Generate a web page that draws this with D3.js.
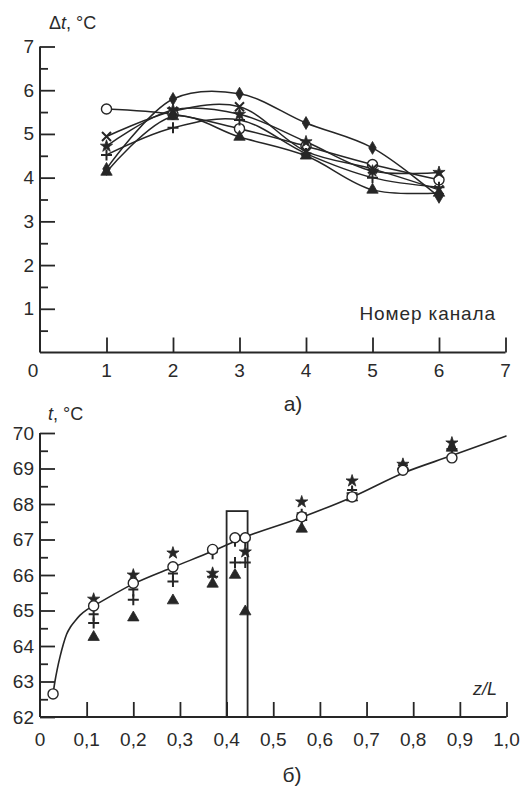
<!DOCTYPE html>
<html>
<head>
<meta charset="utf-8">
<script src="https://cdn.jsdelivr.net/npm/d3@7"></script>
<style>
  html, body { margin: 0; padding: 0; background: #ffffff; }
  svg { display: block; }
  text { font-family: "Liberation Sans", Arial, sans-serif; fill: #2a2a2a; }
</style>
</head>
<body>
<svg id="chart" width="528" height="787"></svg>
<script>
// ---- Panel а): temperature rise per channel ----
const channels = [1, 2, 3, 4, 5, 6];
const dtDiamond  = [4.20, 5.80, 5.92, 5.25, 4.68, 3.56];
const dtCircle   = [5.57, 5.45, 5.12, 4.72, 4.30, 3.95];
const dtCross    = [4.94, 5.52, 5.62, 4.60, 4.20, 3.72];
const dtStar     = [4.72, 5.55, 5.45, 4.82, 4.15, 4.12];
const dtPlus     = [4.52, 5.14, 5.32, 4.55, 4.00, 3.78];
const dtTriangle = [4.13, 5.40, 4.93, 4.50, 3.72, 3.65];
const topXTicks = [1, 2, 3, 4, 5, 6, 7];
const topYTicks = [1, 2, 3, 4, 5, 6, 7];

// ---- Panel б): temperature along the channel ----
const zPos      = [0.028, 0.115, 0.20, 0.285, 0.370, 0.418, 0.440, 0.561, 0.669, 0.778, 0.883];
const tCircle   = [62.65, 65.13, 65.77, 66.23, 66.72, 67.05, 67.05, 67.64, 68.20, 68.95, 69.30];
const tStar     = [null,  65.32, 66.00, 66.62, 66.05, null,  66.65, 68.06, 68.65, 69.12, 69.72];
const tPlus     = [null,  64.65, 65.30, 65.82, 65.95, 66.35, 66.35, 67.55, 68.30, 69.00, 69.55];
const tDagger   = [null,  64.85, 65.55, 66.00, 66.60, 66.95, 66.95, 67.70, 68.35, 69.05, 69.50];
const tTriangle = [null,  64.25, 64.80, 65.28, 65.75, 66.00, 64.97, 67.30, 68.18, 69.05, 69.58];
const zCurve = [0.028, 0.032, 0.037, 0.043, 0.050, 0.057, 0.066, 0.076, 0.086, 0.100, 0.115, 0.200, 0.285, 0.372, 0.430, 0.560, 0.670, 0.780, 0.880, 1.000];
const tCurve = [62.65, 63.00, 63.35, 63.70, 64.05, 64.33, 64.55, 64.72, 64.87, 65.02, 65.13, 65.75, 66.22, 66.68, 67.02, 67.62, 68.20, 68.88, 69.35, 69.92];
const botXTicks = [0.1, 0.2, 0.3, 0.4, 0.5, 0.6, 0.7, 0.8, 0.9, 1.0];
const botXLabels = ["0,1", "0,2", "0,3", "0,4", "0,5", "0,6", "0,7", "0,8", "0,9", "1,0"];
const botYTicks = [62, 63, 64, 65, 66, 67, 68, 69, 70];
const zoneStart = 0.40, zoneEnd = 0.445, zoneTop = 67.8;

const ink = "#262626";
const svg = d3.select("#chart");

// Scales
const xTop = d3.scaleLinear().domain([0, 7]).range([40, 505.5]);
const yTop = d3.scaleLinear().domain([0, 7]).range([352.5, 46.5]);
const xBot = d3.scaleLinear().domain([0, 1]).range([40, 506.5]);
const yBot = d3.scaleLinear().domain([62, 70]).range([717, 433]);

// Marker shapes
function markerPath(kind) {
  switch (kind) {
    case "diamond":  return d3.symbol(d3.symbolDiamond, 48)();
    case "circle":   return d3.symbol(d3.symbolCircle, 80)();
    case "star":     return d3.symbol(d3.symbolStar, 46)();
    case "triangle": return d3.symbol(d3.symbolTriangle, 56)();
    case "cross":    return "M-4.5,-4.5L4.5,4.5M-4.5,4.5L4.5,-4.5";
    case "plus":     return "M-5.5,0H5.5M0,-5.5V5.5";
    case "dagger":   return "M-5,-1.5H5M0,-6V5.5";
  }
}
function drawMarkers(g, xs, ys, kind, xScale, yScale) {
  const pts = xs.map((x, i) => ({ x, y: ys[i] })).filter(p => p.y != null);
  const open = kind === "circle";
  const stroked = kind === "cross" || kind === "plus" || kind === "dagger";
  g.selectAll(null).data(pts).enter().append("path")
    .attr("transform", p => `translate(${xScale(p.x)},${yScale(p.y)})`)
    .attr("d", markerPath(kind))
    .attr("fill", open ? "#ffffff" : (stroked ? "none" : ink))
    .attr("stroke", ink)
    .attr("stroke-width", open ? 1.4 : (stroked ? 2 : 0.8));
}

// Axes with inward-pointing ticks, drawn with d3.axis
function drawAxes(xScale, yScale, xTicks, yTicks, yMinor) {
  const xAxis = d3.axisTop(xScale).tickValues(xTicks).tickSize(15).tickFormat("");
  const gx = svg.append("g").attr("transform", `translate(0,${yScale.range()[0]})`).call(xAxis);
  gx.select(".domain").attr("d", `M${xScale.range()[0]},0H${xScale.range()[1]}`);
  gx.selectAll("line").attr("stroke", ink).attr("stroke-width", 1.8);
  gx.select(".domain").attr("stroke", ink).attr("stroke-width", 2);

  const yAxis = d3.axisRight(yScale).tickValues(yTicks).tickSize(15).tickFormat("");
  const gy = svg.append("g").attr("transform", `translate(${xScale.range()[0]},0)`).call(yAxis);
  gy.select(".domain").attr("d", `M0,${yScale.range()[0]}V${yScale.range()[1]}`);
  gy.selectAll("line").attr("stroke", ink).attr("stroke-width", 1.8);
  gy.select(".domain").attr("stroke", ink).attr("stroke-width", 2);

  const yMinorAxis = d3.axisRight(yScale).tickValues(yMinor).tickSize(8).tickFormat("");
  const gm = svg.append("g").attr("transform", `translate(${xScale.range()[0]},0)`).call(yMinorAxis);
  gm.select(".domain").remove();
  gm.selectAll("line").attr("stroke", ink).attr("stroke-width", 1.8);
}

// ---------- Panel а) ----------
drawAxes(xTop, yTop, topXTicks, topYTicks, d3.range(0.5, 7, 1));

svg.append("g").selectAll(null).data(topYTicks).enter().append("text")
  .attr("x", 34).attr("y", d => yTop(d) + 6.5)
  .attr("text-anchor", "end").attr("font-size", 19).text(d => d);
svg.append("g").selectAll(null).data(topXTicks).enter().append("text")
  .attr("x", d => xTop(d)).attr("y", 377)
  .attr("text-anchor", "middle").attr("font-size", 19).text(d => d);
svg.append("text").attr("x", 33).attr("y", 377).attr("text-anchor", "middle")
  .attr("font-size", 19).text("0");

const topLabel = svg.append("text").attr("x", 49).attr("y", 29).attr("font-size", 18);
topLabel.append("tspan").text("Δ");
topLabel.append("tspan").attr("font-style", "italic").text("t");
topLabel.append("tspan").text(", °C");

svg.append("text").attr("x", 496).attr("y", 320).attr("text-anchor", "end")
  .attr("font-size", 19).attr("letter-spacing", 0.9).text("Номер канала");
svg.append("text").attr("x", 293).attr("y", 411).attr("text-anchor", "middle")
  .attr("font-size", 21).text("а)");

const topSeries = [
  { values: dtCircle, kind: "circle" },
  { values: dtCross, kind: "cross" },
  { values: dtStar, kind: "star" },
  { values: dtPlus, kind: "plus" },
  { values: dtTriangle, kind: "triangle" },
  { values: dtDiamond, kind: "diamond" }
];
const lineTop = d3.line().x((d, i) => xTop(channels[i])).y(d => yTop(d)).curve(d3.curveCatmullRom.alpha(0.5));
const gTop = svg.append("g");
topSeries.forEach(s => {
  gTop.append("path").attr("d", lineTop(s.values))
    .attr("fill", "none").attr("stroke", ink).attr("stroke-width", 1.5);
});
topSeries.forEach(s => drawMarkers(gTop, channels, s.values, s.kind, xTop, yTop));

// ---------- Panel б) ----------
drawAxes(xBot, yBot, botXTicks, botYTicks, d3.range(62.5, 70, 1));

svg.append("g").selectAll(null).data(botYTicks).enter().append("text")
  .attr("x", 34).attr("y", d => yBot(d) + 6.5)
  .attr("text-anchor", "end").attr("font-size", 19).text(d => d);
svg.append("g").selectAll(null).data(botXTicks).enter().append("text")
  .attr("x", d => xBot(d)).attr("y", 746)
  .attr("text-anchor", "middle").attr("font-size", 19).text((d, i) => botXLabels[i]);
svg.append("text").attr("x", 40).attr("y", 746).attr("text-anchor", "middle")
  .attr("font-size", 19).text("0");

const botLabel = svg.append("text").attr("x", 48).attr("y", 420).attr("font-size", 18);
botLabel.append("tspan").attr("font-style", "italic").text("t");
botLabel.append("tspan").text(", °C");

svg.append("text").attr("x", 497).attr("y", 695).attr("text-anchor", "end")
  .attr("font-size", 18).attr("font-style", "italic").text("z/L");
svg.append("text").attr("x", 292).attr("y", 782).attr("text-anchor", "middle")
  .attr("font-size", 21).text("б)");

// highlighted zone
svg.append("rect")
  .attr("x", xBot(zoneStart)).attr("y", yBot(zoneTop))
  .attr("width", xBot(zoneEnd) - xBot(zoneStart)).attr("height", yBot(62) - yBot(zoneTop))
  .attr("fill", "none").attr("stroke", ink).attr("stroke-width", 1.8);

const lineBot = d3.line().x((d, i) => xBot(zCurve[i])).y(d => yBot(d)).curve(d3.curveMonotoneX);
svg.append("path").attr("d", lineBot(tCurve))
  .attr("fill", "none").attr("stroke", ink).attr("stroke-width", 1.6);

const gBot = svg.append("g");
drawMarkers(gBot, zPos, tTriangle, "triangle", xBot, yBot);
drawMarkers(gBot, zPos, tPlus, "plus", xBot, yBot);
drawMarkers(gBot, zPos, tDagger, "dagger", xBot, yBot);
drawMarkers(gBot, zPos, tStar, "star", xBot, yBot);
drawMarkers(gBot, zPos, tCircle, "circle", xBot, yBot);
</script>
</body>
</html>
